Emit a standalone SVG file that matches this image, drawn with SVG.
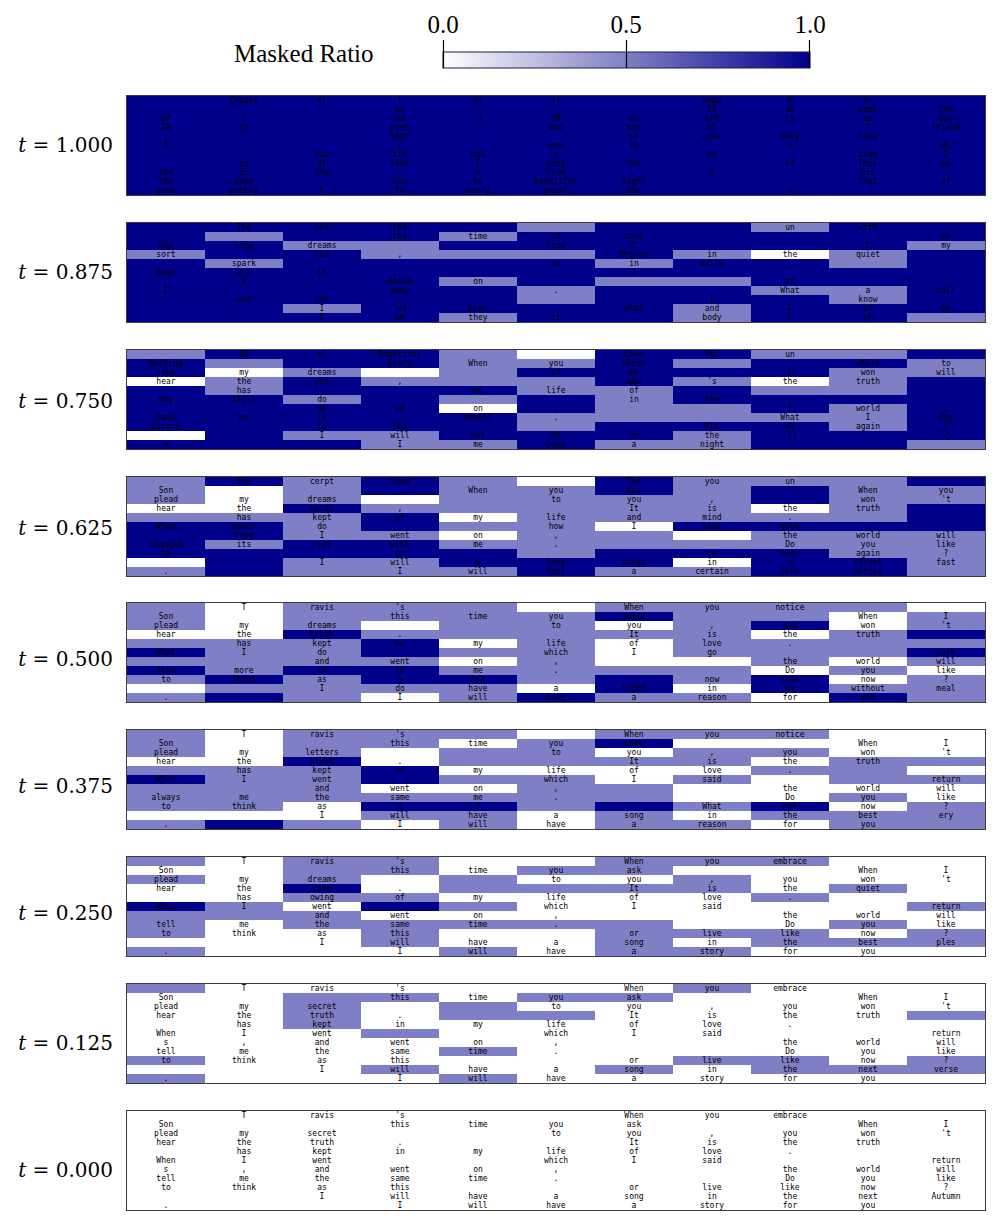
<svg xmlns="http://www.w3.org/2000/svg" width="997" height="1224" viewBox="0 0 997 1224">
<defs>
<linearGradient id="cb" x1="0" y1="0" x2="1" y2="0">
<stop offset="0" stop-color="#ffffff"/>
<stop offset="1" stop-color="#00008b"/>
</linearGradient>
<style>
.d{fill:#00008b}
.m{fill:#7f7fc5}
.w{fill:#ffffff}
.tk{font-family:"DejaVu Sans Mono",monospace;font-size:8px;fill:#000;text-anchor:middle}
.lbl{font-family:"DejaVu Serif",serif;font-size:20px;fill:#000;text-anchor:end}
.frame{fill:none;stroke:#3c3c3c;stroke-width:1}
.hdr{font-family:"Liberation Serif",serif;font-size:25px;fill:#000}
.tick{stroke:#000;stroke-width:1.2}
</style>
</defs>
<rect x="0" y="0" width="997" height="1224" fill="#ffffff"/>

<g id="colorbar">
<text class="hdr" x="234" y="62">Masked Ratio</text>
<rect x="443" y="52" width="367" height="16" fill="url(#cb)" stroke="#1c1c4c" stroke-width="1"/>
<line class="tick" x1="443.5" y1="40" x2="443.5" y2="68"/>
<line class="tick" x1="626.5" y1="40" x2="626.5" y2="68"/>
<line class="tick" x1="809.5" y1="40" x2="809.5" y2="68"/>
<text class="hdr" x="443" y="33" text-anchor="middle">0.0</text>
<text class="hdr" x="626" y="33" text-anchor="middle">0.5</text>
<text class="hdr" x="810" y="33" text-anchor="middle">1.0</text>
</g>

<g id="panel-t1000" transform="translate(0,96)">
<rect class="d" x="127" y="0" width="858" height="99"/>
<text class="tk" y="7"><tspan x="244">Images</tspan><tspan x="322">el</tspan><tspan x="400">l</tspan><tspan x="478">by</tspan><tspan x="556">ir</tspan><tspan x="712">anga</tspan><tspan x="790">H</tspan><tspan x="868">is</tspan></text>
<text class="tk" y="16"><tspan x="166">'</tspan><tspan x="400">be</tspan><tspan x="712">19</tspan><tspan x="790">ah</tspan><tspan x="868">poet</tspan><tspan x="946">the</tspan></text>
<text class="tk" y="25"><tspan x="166">of</tspan><tspan x="244">!</tspan><tspan x="400">ad</tspan><tspan x="478">'s</tspan><tspan x="556">fM</tspan><tspan x="634">as</tspan><tspan x="712">ard</tspan><tspan x="790">to</tspan><tspan x="868">as</tspan><tspan x="946">day</tspan></text>
<text class="tk" y="34"><tspan x="166">18</tspan><tspan x="244">to</tspan><tspan x="400">poem</tspan><tspan x="556">who</tspan><tspan x="634">has</tspan><tspan x="712">el</tspan><tspan x="868">(</tspan><tspan x="946">friend</tspan></text>
<text class="tk" y="43"><tspan x="166">,</tspan><tspan x="244">:</tspan><tspan x="400">that</tspan><tspan x="634">of</tspan><tspan x="712">come</tspan><tspan x="790">only</tspan><tspan x="868">love</tspan></text>
<text class="tk" y="52"><tspan x="166">5</tspan><tspan x="400">/</tspan><tspan x="556">you</tspan><tspan x="634">in</tspan><tspan x="790">n</tspan><tspan x="868">-</tspan><tspan x="946">He</tspan></text>
<text class="tk" y="61"><tspan x="244">.</tspan><tspan x="322">two</tspan><tspan x="400">him</tspan><tspan x="478">how</tspan><tspan x="556">a</tspan><tspan x="712">ak</tspan><tspan x="868">than</tspan><tspan x="946">I</tspan></text>
<text class="tk" y="70"><tspan x="244">is</tspan><tspan x="322">of</tspan><tspan x="400">that</tspan><tspan x="478">I</tspan><tspan x="556">song</tspan><tspan x="634">the</tspan><tspan x="790">of</tspan><tspan x="868">This</tspan><tspan x="946">my</tspan></text>
<text class="tk" y="79"><tspan x="166">the</tspan><tspan x="244">In</tspan><tspan x="322">the</tspan><tspan x="400">'</tspan><tspan x="478">a</tspan><tspan x="556">from</tspan><tspan x="634">,</tspan><tspan x="712">A</tspan><tspan x="868">his</tspan></text>
<text class="tk" y="88"><tspan x="166">the</tspan><tspan x="244">poem</tspan><tspan x="400">how</tspan><tspan x="478">to</tspan><tspan x="556">beautiful</tspan><tspan x="634">night</tspan><tspan x="868">that</tspan><tspan x="946">of</tspan></text>
<text class="tk" y="97"><tspan x="166">poem</tspan><tspan x="244">poetry</tspan><tspan x="322">t</tspan><tspan x="400">to</tspan><tspan x="478">every</tspan><tspan x="556">great</tspan><tspan x="634">the</tspan><tspan x="790">s</tspan><tspan x="868">.</tspan></text>
<rect class="frame" x="126.5" y="-0.5" width="859" height="100"/>
<text class="lbl" x="113" y="56"><tspan font-style="italic">t</tspan> = 1.000</text>
</g>

<g id="panel-t0875" transform="translate(0,223)">
<rect class="d" x="127" y="0" width="858" height="99"/>
<rect class="m" x="517" y="0" width="78" height="9"/><rect class="m" x="751" y="0" width="78" height="9"/>
<rect class="m" x="205" y="9" width="78" height="9"/><rect class="m" x="439" y="9" width="78" height="9"/>
<rect class="m" x="283" y="18" width="156" height="9"/><rect class="m" x="907" y="18" width="78" height="9"/>
<rect class="m" x="127" y="27" width="78" height="9"/><rect class="m" x="361" y="27" width="234" height="9"/><rect class="m" x="673" y="27" width="78" height="9"/><rect class="w" x="751" y="27" width="78" height="9"/><rect class="m" x="829" y="27" width="78" height="9"/>
<rect class="m" x="205" y="36" width="78" height="9"/><rect class="m" x="595" y="36" width="78" height="9"/><rect class="m" x="829" y="36" width="78" height="9"/>
<rect class="m" x="439" y="54" width="78" height="9"/><rect class="m" x="595" y="54" width="156" height="9"/>
<rect class="m" x="517" y="63" width="78" height="9"/><rect class="m" x="751" y="63" width="156" height="9"/>
<rect class="m" x="517" y="72" width="78" height="9"/><rect class="m" x="829" y="72" width="78" height="9"/>
<rect class="m" x="283" y="81" width="78" height="9"/><rect class="m" x="673" y="81" width="78" height="9"/>
<rect class="m" x="439" y="90" width="78" height="9"/><rect class="m" x="673" y="90" width="78" height="9"/><rect class="m" x="907" y="90" width="78" height="9"/>
<text class="tk" y="7"><tspan x="244">The</tspan><tspan x="322">ose</tspan><tspan x="400">the</tspan><tspan x="790">un</tspan><tspan x="868">with</tspan></text>
<text class="tk" y="16"><tspan x="400">the</tspan><tspan x="478">time</tspan><tspan x="556">of</tspan><tspan x="634">cons</tspan><tspan x="946">my</tspan></text>
<text class="tk" y="25"><tspan x="166">day</tspan><tspan x="244">long</tspan><tspan x="322">dreams</tspan><tspan x="556">from</tspan><tspan x="634">I</tspan><tspan x="868">I</tspan><tspan x="946">my</tspan></text>
<text class="tk" y="34"><tspan x="166">sort</tspan><tspan x="322">him</tspan><tspan x="400">,</tspan><tspan x="634">Return</tspan><tspan x="712">in</tspan><tspan x="790">the</tspan><tspan x="868">quiet</tspan></text>
<text class="tk" y="43"><tspan x="244">spark</tspan><tspan x="556">us</tspan><tspan x="634">in</tspan><tspan x="712">walls</tspan><tspan x="790">.</tspan></text>
<text class="tk" y="52"><tspan x="166">have</tspan><tspan x="244">are</tspan><tspan x="322">in</tspan><tspan x="400">,</tspan><tspan x="634">I</tspan></text>
<text class="tk" y="61"><tspan x="166">,</tspan><tspan x="244">I</tspan><tspan x="400">based</tspan><tspan x="478">on</tspan><tspan x="556">.</tspan><tspan x="790">at</tspan><tspan x="868">,</tspan><tspan x="946">'</tspan></text>
<text class="tk" y="70"><tspan x="166">I</tspan><tspan x="244">.</tspan><tspan x="400">away</tspan><tspan x="556">.</tspan><tspan x="790">What</tspan><tspan x="868">a</tspan><tspan x="946">call</tspan></text>
<text class="tk" y="79"><tspan x="166">.</tspan><tspan x="244">and</tspan><tspan x="322">the</tspan><tspan x="400">.</tspan><tspan x="712">I</tspan><tspan x="790">,</tspan><tspan x="868">know</tspan><tspan x="946">.</tspan></text>
<text class="tk" y="88"><tspan x="322">I</tspan><tspan x="400">'ve</tspan><tspan x="478">been</tspan><tspan x="634">what</tspan><tspan x="712">and</tspan><tspan x="790">I</tspan><tspan x="868">of</tspan><tspan x="946">my</tspan></text>
<text class="tk" y="97"><tspan x="322">I</tspan><tspan x="400">am</tspan><tspan x="478">they</tspan><tspan x="556">it</tspan><tspan x="634">,</tspan><tspan x="712">body</tspan><tspan x="790">?</tspan><tspan x="868">pt</tspan></text>
<rect class="frame" x="126.5" y="-0.5" width="859" height="100"/>
<text class="lbl" x="113" y="56"><tspan font-style="italic">t</tspan> = 0.875</text>
</g>

<g id="panel-t0750" transform="translate(0,350)">
<rect class="d" x="127" y="0" width="858" height="99"/>
<rect class="m" x="127" y="0" width="78" height="9"/><rect class="m" x="439" y="0" width="78" height="9"/><rect class="w" x="517" y="0" width="78" height="9"/><rect class="m" x="751" y="0" width="156" height="9"/>
<rect class="m" x="205" y="9" width="78" height="9"/><rect class="m" x="439" y="9" width="156" height="9"/><rect class="m" x="673" y="9" width="78" height="9"/><rect class="m" x="907" y="9" width="78" height="9"/>
<rect class="w" x="205" y="18" width="78" height="9"/><rect class="m" x="283" y="18" width="78" height="9"/><rect class="w" x="361" y="18" width="78" height="9"/><rect class="m" x="439" y="18" width="78" height="9"/><rect class="m" x="829" y="18" width="156" height="9"/>
<rect class="w" x="127" y="27" width="78" height="9"/><rect class="m" x="205" y="27" width="78" height="9"/><rect class="m" x="361" y="27" width="234" height="9"/><rect class="m" x="673" y="27" width="78" height="9"/><rect class="w" x="751" y="27" width="78" height="9"/><rect class="m" x="829" y="27" width="78" height="9"/>
<rect class="m" x="205" y="36" width="78" height="9"/><rect class="m" x="517" y="36" width="156" height="9"/><rect class="m" x="751" y="36" width="156" height="9"/>
<rect class="m" x="283" y="45" width="78" height="9"/><rect class="m" x="439" y="45" width="78" height="9"/><rect class="m" x="595" y="45" width="78" height="9"/>
<rect class="w" x="439" y="54" width="78" height="9"/><rect class="m" x="595" y="54" width="156" height="9"/><rect class="m" x="829" y="54" width="78" height="9"/>
<rect class="m" x="517" y="63" width="390" height="9"/>
<rect class="m" x="517" y="72" width="78" height="9"/><rect class="m" x="829" y="72" width="78" height="9"/>
<rect class="w" x="127" y="81" width="78" height="9"/><rect class="m" x="283" y="81" width="156" height="9"/><rect class="m" x="673" y="81" width="78" height="9"/>
<rect class="m" x="361" y="90" width="156" height="9"/><rect class="m" x="595" y="90" width="156" height="9"/><rect class="m" x="907" y="90" width="78" height="9"/>
<text class="tk" y="7"><tspan x="244">Sk</tspan><tspan x="322">ol</tspan><tspan x="400">Beautiful</tspan><tspan x="634">Love</tspan><tspan x="712">You</tspan><tspan x="790">un</tspan></text>
<text class="tk" y="16"><tspan x="166">Nothing</tspan><tspan x="400">Every</tspan><tspan x="478">When</tspan><tspan x="556">you</tspan><tspan x="634">think</tspan><tspan x="868">while</tspan><tspan x="946">to</tspan></text>
<text class="tk" y="25"><tspan x="166">sing</tspan><tspan x="244">my</tspan><tspan x="322">dreams</tspan><tspan x="556">of</tspan><tspan x="634">me</tspan><tspan x="790">I</tspan><tspan x="868">won</tspan><tspan x="946">will</tspan></text>
<text class="tk" y="34"><tspan x="166">hear</tspan><tspan x="244">the</tspan><tspan x="322">you</tspan><tspan x="400">,</tspan><tspan x="634">Now</tspan><tspan x="712">'s</tspan><tspan x="790">the</tspan><tspan x="868">truth</tspan></text>
<text class="tk" y="43"><tspan x="244">has</tspan><tspan x="478">me</tspan><tspan x="556">life</tspan><tspan x="634">of</tspan><tspan x="712">.</tspan></text>
<text class="tk" y="52"><tspan x="166">may</tspan><tspan x="244">still</tspan><tspan x="322">do</tspan><tspan x="634">in</tspan><tspan x="712">the</tspan></text>
<text class="tk" y="61"><tspan x="322">no</tspan><tspan x="400">ed</tspan><tspan x="478">on</tspan><tspan x="556">,</tspan><tspan x="790">I</tspan><tspan x="868">world</tspan><tspan x="946">,</tspan></text>
<text class="tk" y="70"><tspan x="166">have</tspan><tspan x="244">my</tspan><tspan x="322">is</tspan><tspan x="478">myself</tspan><tspan x="556">.</tspan><tspan x="790">What</tspan><tspan x="868">I</tspan><tspan x="946">day</tspan></text>
<text class="tk" y="79"><tspan x="166">before</tspan><tspan x="322">to</tspan><tspan x="400">see</tspan><tspan x="712">his</tspan><tspan x="790">we</tspan><tspan x="868">again</tspan><tspan x="946">?</tspan></text>
<text class="tk" y="88"><tspan x="322">I</tspan><tspan x="400">will</tspan><tspan x="478">not</tspan><tspan x="556">so</tspan><tspan x="634">'or</tspan><tspan x="712">the</tspan><tspan x="790">'ll</tspan><tspan x="946">'s</tspan></text>
<text class="tk" y="97"><tspan x="166">a</tspan><tspan x="400">I</tspan><tspan x="478">me</tspan><tspan x="556">keep</tspan><tspan x="634">a</tspan><tspan x="712">night</tspan><tspan x="790">.</tspan></text>
<rect class="frame" x="126.5" y="-0.5" width="859" height="100"/>
<text class="lbl" x="113" y="58"><tspan font-style="italic">t</tspan> = 0.750</text>
</g>

<g id="panel-t0625" transform="translate(0,477)">
<rect class="m" x="127" y="0" width="858" height="99"/>
<rect class="d" x="205" y="0" width="78" height="9"/><rect class="d" x="361" y="0" width="78" height="9"/><rect class="w" x="517" y="0" width="78" height="9"/><rect class="d" x="595" y="0" width="78" height="9"/><rect class="d" x="907" y="0" width="78" height="9"/>
<rect class="w" x="205" y="9" width="78" height="9"/><rect class="d" x="361" y="9" width="78" height="9"/><rect class="d" x="595" y="9" width="78" height="9"/><rect class="d" x="751" y="9" width="78" height="9"/>
<rect class="w" x="205" y="18" width="78" height="9"/><rect class="w" x="361" y="18" width="78" height="9"/><rect class="d" x="751" y="18" width="78" height="9"/>
<rect class="w" x="127" y="27" width="156" height="9"/><rect class="d" x="283" y="27" width="78" height="9"/><rect class="w" x="751" y="27" width="78" height="9"/><rect class="d" x="907" y="27" width="78" height="9"/>
<rect class="d" x="361" y="36" width="78" height="9"/><rect class="w" x="439" y="36" width="78" height="9"/><rect class="d" x="907" y="36" width="78" height="9"/>
<rect class="d" x="127" y="45" width="156" height="9"/><rect class="d" x="361" y="45" width="78" height="9"/><rect class="w" x="595" y="45" width="78" height="9"/><rect class="d" x="673" y="45" width="312" height="9"/>
<rect class="d" x="127" y="54" width="156" height="9"/><rect class="w" x="439" y="54" width="78" height="9"/><rect class="w" x="673" y="54" width="78" height="9"/>
<rect class="d" x="127" y="63" width="78" height="9"/><rect class="d" x="283" y="63" width="156" height="9"/>
<rect class="d" x="127" y="72" width="390" height="9"/><rect class="d" x="595" y="72" width="234" height="9"/>
<rect class="w" x="127" y="81" width="78" height="9"/><rect class="d" x="205" y="81" width="78" height="9"/><rect class="d" x="439" y="81" width="234" height="9"/><rect class="w" x="673" y="81" width="78" height="9"/><rect class="d" x="751" y="81" width="156" height="9"/>
<rect class="d" x="205" y="90" width="78" height="9"/><rect class="d" x="517" y="90" width="78" height="9"/><rect class="d" x="751" y="90" width="156" height="9"/>
<text class="tk" y="7"><tspan x="244">The</tspan><tspan x="322">cerpt</tspan><tspan x="400">them</tspan><tspan x="634">The</tspan><tspan x="712">you</tspan><tspan x="790">un</tspan></text>
<text class="tk" y="16"><tspan x="166">Son</tspan><tspan x="478">When</tspan><tspan x="556">you</tspan><tspan x="634">die</tspan><tspan x="868">When</tspan><tspan x="946">you</tspan></text>
<text class="tk" y="25"><tspan x="166">plead</tspan><tspan x="244">my</tspan><tspan x="322">dreams</tspan><tspan x="556">to</tspan><tspan x="634">you</tspan><tspan x="712">,</tspan><tspan x="868">won</tspan><tspan x="946">'t</tspan></text>
<text class="tk" y="34"><tspan x="166">hear</tspan><tspan x="244">the</tspan><tspan x="322">words</tspan><tspan x="400">,</tspan><tspan x="634">It</tspan><tspan x="712">is</tspan><tspan x="790">the</tspan><tspan x="868">truth</tspan></text>
<text class="tk" y="43"><tspan x="244">has</tspan><tspan x="322">kept</tspan><tspan x="400">of</tspan><tspan x="478">my</tspan><tspan x="556">life</tspan><tspan x="634">and</tspan><tspan x="712">mind</tspan><tspan x="790">.</tspan></text>
<text class="tk" y="52"><tspan x="166">When</tspan><tspan x="244">never</tspan><tspan x="322">do</tspan><tspan x="556">how</tspan><tspan x="634">I</tspan><tspan x="712">love</tspan><tspan x="790">gone</tspan><tspan x="868">,</tspan></text>
<text class="tk" y="61"><tspan x="244">from</tspan><tspan x="322">I</tspan><tspan x="400">went</tspan><tspan x="478">on</tspan><tspan x="556">,</tspan><tspan x="790">the</tspan><tspan x="868">world</tspan><tspan x="946">will</tspan></text>
<text class="tk" y="70"><tspan x="166">changed</tspan><tspan x="244">its</tspan><tspan x="322">rest</tspan><tspan x="400">with</tspan><tspan x="478">me</tspan><tspan x="556">.</tspan><tspan x="790">Do</tspan><tspan x="868">you</tspan><tspan x="946">like</tspan></text>
<text class="tk" y="79"><tspan x="166">to</tspan><tspan x="400">or</tspan><tspan x="712">is</tspan><tspan x="790">ever</tspan><tspan x="868">again</tspan><tspan x="946">?</tspan></text>
<text class="tk" y="88"><tspan x="322">I</tspan><tspan x="400">will</tspan><tspan x="478">a</tspan><tspan x="556">love</tspan><tspan x="634">songs</tspan><tspan x="712">in</tspan><tspan x="790">a</tspan><tspan x="868">silent</tspan><tspan x="946">fast</tspan></text>
<text class="tk" y="97"><tspan x="166">.</tspan><tspan x="400">I</tspan><tspan x="478">will</tspan><tspan x="556">feel</tspan><tspan x="634">a</tspan><tspan x="712">certain</tspan><tspan x="790">here</tspan><tspan x="868">notice</tspan></text>
<rect class="frame" x="126.5" y="-0.5" width="859" height="100"/>
<text class="lbl" x="113" y="58"><tspan font-style="italic">t</tspan> = 0.625</text>
</g>

<g id="panel-t0500" transform="translate(0,603)">
<rect class="m" x="127" y="0" width="858" height="99"/>
<rect class="w" x="205" y="0" width="78" height="9"/><rect class="w" x="517" y="0" width="78" height="9"/><rect class="w" x="907" y="0" width="78" height="9"/>
<rect class="w" x="205" y="9" width="78" height="9"/><rect class="d" x="595" y="9" width="78" height="9"/><rect class="w" x="829" y="9" width="78" height="9"/>
<rect class="w" x="205" y="18" width="78" height="9"/><rect class="w" x="361" y="18" width="78" height="9"/><rect class="w" x="595" y="18" width="78" height="9"/><rect class="d" x="751" y="18" width="78" height="9"/><rect class="w" x="829" y="18" width="78" height="9"/>
<rect class="w" x="127" y="27" width="156" height="9"/><rect class="d" x="283" y="27" width="78" height="9"/><rect class="w" x="751" y="27" width="78" height="9"/><rect class="d" x="907" y="27" width="78" height="9"/>
<rect class="d" x="361" y="36" width="78" height="9"/><rect class="w" x="439" y="36" width="78" height="9"/><rect class="w" x="595" y="36" width="78" height="9"/>
<rect class="d" x="127" y="45" width="78" height="9"/><rect class="d" x="361" y="45" width="78" height="9"/><rect class="w" x="595" y="45" width="78" height="9"/><rect class="d" x="907" y="45" width="78" height="9"/>
<rect class="w" x="439" y="54" width="78" height="9"/><rect class="w" x="595" y="54" width="156" height="9"/><rect class="w" x="829" y="54" width="78" height="9"/>
<rect class="d" x="127" y="63" width="78" height="9"/><rect class="d" x="283" y="63" width="156" height="9"/><rect class="w" x="751" y="63" width="78" height="9"/><rect class="w" x="907" y="63" width="78" height="9"/>
<rect class="d" x="205" y="72" width="78" height="9"/><rect class="d" x="361" y="72" width="156" height="9"/><rect class="d" x="595" y="72" width="78" height="9"/><rect class="d" x="751" y="72" width="78" height="9"/><rect class="w" x="829" y="72" width="78" height="9"/>
<rect class="w" x="127" y="81" width="78" height="9"/><rect class="w" x="517" y="81" width="78" height="9"/><rect class="d" x="595" y="81" width="78" height="9"/><rect class="w" x="673" y="81" width="78" height="9"/><rect class="d" x="751" y="81" width="78" height="9"/>
<rect class="d" x="205" y="90" width="78" height="9"/><rect class="w" x="361" y="90" width="78" height="9"/><rect class="d" x="517" y="90" width="78" height="9"/><rect class="w" x="751" y="90" width="78" height="9"/><rect class="d" x="829" y="90" width="78" height="9"/>
<text class="tk" y="7"><tspan x="244">T</tspan><tspan x="322">ravis</tspan><tspan x="400">'s</tspan><tspan x="634">When</tspan><tspan x="712">you</tspan><tspan x="790">notice</tspan></text>
<text class="tk" y="16"><tspan x="166">Son</tspan><tspan x="400">this</tspan><tspan x="478">time</tspan><tspan x="556">you</tspan><tspan x="634">smile</tspan><tspan x="868">When</tspan><tspan x="946">I</tspan></text>
<text class="tk" y="25"><tspan x="166">plead</tspan><tspan x="244">my</tspan><tspan x="322">dreams</tspan><tspan x="556">to</tspan><tspan x="634">you</tspan><tspan x="712">,</tspan><tspan x="790">you</tspan><tspan x="868">won</tspan><tspan x="946">'t</tspan></text>
<text class="tk" y="34"><tspan x="166">hear</tspan><tspan x="244">the</tspan><tspan x="322">truth</tspan><tspan x="400">.</tspan><tspan x="634">It</tspan><tspan x="712">is</tspan><tspan x="790">the</tspan><tspan x="868">truth</tspan></text>
<text class="tk" y="43"><tspan x="244">has</tspan><tspan x="322">kept</tspan><tspan x="400">me</tspan><tspan x="478">my</tspan><tspan x="556">life</tspan><tspan x="634">of</tspan><tspan x="712">love</tspan><tspan x="790">.</tspan></text>
<text class="tk" y="52"><tspan x="166">What</tspan><tspan x="244">I</tspan><tspan x="322">do</tspan><tspan x="556">which</tspan><tspan x="634">I</tspan><tspan x="712">go</tspan><tspan x="946">work</tspan></text>
<text class="tk" y="61"><tspan x="322">and</tspan><tspan x="400">went</tspan><tspan x="478">on</tspan><tspan x="556">,</tspan><tspan x="790">the</tspan><tspan x="868">world</tspan><tspan x="946">will</tspan></text>
<text class="tk" y="70"><tspan x="166">find</tspan><tspan x="244">more</tspan><tspan x="322">in</tspan><tspan x="400">to</tspan><tspan x="478">me</tspan><tspan x="556">.</tspan><tspan x="790">Do</tspan><tspan x="868">you</tspan><tspan x="946">like</tspan></text>
<text class="tk" y="79"><tspan x="166">to</tspan><tspan x="244">think</tspan><tspan x="322">as</tspan><tspan x="400">a</tspan><tspan x="478">ask</tspan><tspan x="712">now</tspan><tspan x="790">than</tspan><tspan x="868">now</tspan><tspan x="946">?</tspan></text>
<text class="tk" y="88"><tspan x="322">I</tspan><tspan x="400">do</tspan><tspan x="478">have</tspan><tspan x="556">a</tspan><tspan x="634">light</tspan><tspan x="712">in</tspan><tspan x="790">my</tspan><tspan x="868">without</tspan><tspan x="946">meal</tspan></text>
<text class="tk" y="97"><tspan x="166">.</tspan><tspan x="400">I</tspan><tspan x="478">will</tspan><tspan x="556">have</tspan><tspan x="634">a</tspan><tspan x="712">reason</tspan><tspan x="790">for</tspan><tspan x="868">you</tspan></text>
<rect class="frame" x="126.5" y="-0.5" width="859" height="100"/>
<text class="lbl" x="113" y="63"><tspan font-style="italic">t</tspan> = 0.500</text>
</g>

<g id="panel-t0375" transform="translate(0,730)">
<rect class="m" x="127" y="0" width="858" height="99"/>
<rect class="w" x="205" y="0" width="78" height="9"/><rect class="w" x="517" y="0" width="78" height="9"/><rect class="w" x="829" y="0" width="156" height="9"/>
<rect class="w" x="205" y="9" width="78" height="9"/><rect class="w" x="439" y="9" width="78" height="9"/><rect class="d" x="595" y="9" width="78" height="9"/><rect class="w" x="673" y="9" width="312" height="9"/>
<rect class="w" x="205" y="18" width="78" height="9"/><rect class="w" x="361" y="18" width="78" height="9"/><rect class="w" x="595" y="18" width="78" height="9"/><rect class="w" x="829" y="18" width="156" height="9"/>
<rect class="w" x="127" y="27" width="156" height="9"/><rect class="d" x="283" y="27" width="78" height="9"/><rect class="w" x="361" y="27" width="78" height="9"/><rect class="w" x="751" y="27" width="78" height="9"/>
<rect class="d" x="361" y="36" width="78" height="9"/><rect class="w" x="439" y="36" width="312" height="9"/><rect class="w" x="907" y="36" width="78" height="9"/>
<rect class="d" x="127" y="45" width="78" height="9"/><rect class="d" x="361" y="45" width="78" height="9"/><rect class="w" x="595" y="45" width="78" height="9"/><rect class="w" x="751" y="45" width="78" height="9"/>
<rect class="w" x="361" y="54" width="156" height="9"/><rect class="w" x="673" y="54" width="312" height="9"/>
<rect class="w" x="673" y="63" width="156" height="9"/><rect class="w" x="907" y="63" width="78" height="9"/>
<rect class="w" x="283" y="72" width="78" height="9"/><rect class="d" x="361" y="72" width="156" height="9"/><rect class="d" x="595" y="72" width="78" height="9"/><rect class="d" x="751" y="72" width="78" height="9"/><rect class="w" x="829" y="72" width="78" height="9"/>
<rect class="w" x="127" y="81" width="234" height="9"/><rect class="w" x="517" y="81" width="78" height="9"/><rect class="w" x="673" y="81" width="78" height="9"/>
<rect class="d" x="205" y="90" width="78" height="9"/><rect class="w" x="361" y="90" width="78" height="9"/><rect class="w" x="517" y="90" width="78" height="9"/><rect class="w" x="751" y="90" width="78" height="9"/>
<text class="tk" y="7"><tspan x="244">T</tspan><tspan x="322">ravis</tspan><tspan x="400">'s</tspan><tspan x="634">When</tspan><tspan x="712">you</tspan><tspan x="790">notice</tspan></text>
<text class="tk" y="16"><tspan x="166">Son</tspan><tspan x="400">this</tspan><tspan x="478">time</tspan><tspan x="556">you</tspan><tspan x="634">come</tspan><tspan x="868">When</tspan><tspan x="946">I</tspan></text>
<text class="tk" y="25"><tspan x="166">plead</tspan><tspan x="244">my</tspan><tspan x="322">letters</tspan><tspan x="556">to</tspan><tspan x="634">you</tspan><tspan x="712">,</tspan><tspan x="790">you</tspan><tspan x="868">won</tspan><tspan x="946">'t</tspan></text>
<text class="tk" y="34"><tspan x="166">hear</tspan><tspan x="244">the</tspan><tspan x="322">truth</tspan><tspan x="400">.</tspan><tspan x="634">It</tspan><tspan x="712">is</tspan><tspan x="790">the</tspan><tspan x="868">truth</tspan></text>
<text class="tk" y="43"><tspan x="244">has</tspan><tspan x="322">kept</tspan><tspan x="400">of</tspan><tspan x="478">my</tspan><tspan x="556">life</tspan><tspan x="634">of</tspan><tspan x="712">love</tspan><tspan x="790">.</tspan></text>
<text class="tk" y="52"><tspan x="166">When</tspan><tspan x="244">I</tspan><tspan x="322">went</tspan><tspan x="556">which</tspan><tspan x="634">I</tspan><tspan x="712">said</tspan><tspan x="946">return</tspan></text>
<text class="tk" y="61"><tspan x="322">and</tspan><tspan x="400">went</tspan><tspan x="478">on</tspan><tspan x="556">,</tspan><tspan x="790">the</tspan><tspan x="868">world</tspan><tspan x="946">will</tspan></text>
<text class="tk" y="70"><tspan x="166">always</tspan><tspan x="244">me</tspan><tspan x="322">the</tspan><tspan x="400">same</tspan><tspan x="478">me</tspan><tspan x="556">.</tspan><tspan x="790">Do</tspan><tspan x="868">you</tspan><tspan x="946">like</tspan></text>
<text class="tk" y="79"><tspan x="166">to</tspan><tspan x="244">think</tspan><tspan x="322">as</tspan><tspan x="400">a</tspan><tspan x="478">?</tspan><tspan x="712">What</tspan><tspan x="790">not</tspan><tspan x="868">now</tspan><tspan x="946">?</tspan></text>
<text class="tk" y="88"><tspan x="322">I</tspan><tspan x="400">will</tspan><tspan x="478">have</tspan><tspan x="556">a</tspan><tspan x="634">song</tspan><tspan x="712">in</tspan><tspan x="790">the</tspan><tspan x="868">best</tspan><tspan x="946">ery</tspan></text>
<text class="tk" y="97"><tspan x="166">.</tspan><tspan x="400">I</tspan><tspan x="478">will</tspan><tspan x="556">have</tspan><tspan x="634">a</tspan><tspan x="712">reason</tspan><tspan x="790">for</tspan><tspan x="868">you</tspan></text>
<rect class="frame" x="126.5" y="-0.5" width="859" height="100"/>
<text class="lbl" x="113" y="63"><tspan font-style="italic">t</tspan> = 0.375</text>
</g>

<g id="panel-t0250" transform="translate(0,857)">
<rect class="w" x="127" y="0" width="858" height="99"/>
<rect class="m" x="127" y="0" width="78" height="9"/><rect class="m" x="283" y="0" width="156" height="9"/><rect class="m" x="595" y="0" width="234" height="9"/>
<rect class="m" x="283" y="9" width="156" height="9"/><rect class="m" x="517" y="9" width="156" height="9"/>
<rect class="m" x="127" y="18" width="78" height="9"/><rect class="m" x="283" y="18" width="78" height="9"/><rect class="m" x="439" y="18" width="78" height="9"/><rect class="m" x="673" y="18" width="78" height="9"/>
<rect class="d" x="283" y="27" width="78" height="9"/><rect class="m" x="439" y="27" width="312" height="9"/><rect class="m" x="829" y="27" width="78" height="9"/>
<rect class="m" x="283" y="36" width="156" height="9"/><rect class="m" x="751" y="36" width="78" height="9"/>
<rect class="d" x="127" y="45" width="78" height="9"/><rect class="m" x="205" y="45" width="78" height="9"/><rect class="d" x="361" y="45" width="78" height="9"/><rect class="m" x="439" y="45" width="78" height="9"/><rect class="m" x="907" y="45" width="78" height="9"/>
<rect class="m" x="127" y="54" width="234" height="9"/>
<rect class="m" x="127" y="63" width="78" height="9"/><rect class="m" x="283" y="63" width="390" height="9"/><rect class="m" x="829" y="63" width="78" height="9"/>
<rect class="m" x="127" y="72" width="78" height="9"/><rect class="m" x="361" y="72" width="78" height="9"/><rect class="m" x="595" y="72" width="234" height="9"/><rect class="m" x="907" y="72" width="78" height="9"/>
<rect class="m" x="361" y="81" width="78" height="9"/><rect class="m" x="595" y="81" width="78" height="9"/><rect class="m" x="751" y="81" width="234" height="9"/>
<rect class="m" x="127" y="90" width="78" height="9"/><rect class="m" x="439" y="90" width="78" height="9"/><rect class="m" x="595" y="90" width="156" height="9"/>
<text class="tk" y="7"><tspan x="244">T</tspan><tspan x="322">ravis</tspan><tspan x="400">'s</tspan><tspan x="634">When</tspan><tspan x="712">you</tspan><tspan x="790">embrace</tspan></text>
<text class="tk" y="16"><tspan x="166">Son</tspan><tspan x="400">this</tspan><tspan x="478">time</tspan><tspan x="556">you</tspan><tspan x="634">ask</tspan><tspan x="868">When</tspan><tspan x="946">I</tspan></text>
<text class="tk" y="25"><tspan x="166">plead</tspan><tspan x="244">my</tspan><tspan x="322">dreams</tspan><tspan x="556">to</tspan><tspan x="634">you</tspan><tspan x="712">,</tspan><tspan x="790">you</tspan><tspan x="868">won</tspan><tspan x="946">'t</tspan></text>
<text class="tk" y="34"><tspan x="166">hear</tspan><tspan x="244">the</tspan><tspan x="322">song</tspan><tspan x="400">.</tspan><tspan x="634">It</tspan><tspan x="712">is</tspan><tspan x="790">the</tspan><tspan x="868">quiet</tspan></text>
<text class="tk" y="43"><tspan x="244">has</tspan><tspan x="322">owing</tspan><tspan x="400">of</tspan><tspan x="478">my</tspan><tspan x="556">life</tspan><tspan x="634">of</tspan><tspan x="712">love</tspan><tspan x="790">.</tspan></text>
<text class="tk" y="52"><tspan x="166">When</tspan><tspan x="244">I</tspan><tspan x="322">went</tspan><tspan x="556">which</tspan><tspan x="634">I</tspan><tspan x="712">said</tspan><tspan x="946">return</tspan></text>
<text class="tk" y="61"><tspan x="322">and</tspan><tspan x="400">went</tspan><tspan x="478">on</tspan><tspan x="556">,</tspan><tspan x="790">the</tspan><tspan x="868">world</tspan><tspan x="946">will</tspan></text>
<text class="tk" y="70"><tspan x="166">tell</tspan><tspan x="244">me</tspan><tspan x="322">the</tspan><tspan x="400">same</tspan><tspan x="478">time</tspan><tspan x="556">.</tspan><tspan x="790">Do</tspan><tspan x="868">you</tspan><tspan x="946">like</tspan></text>
<text class="tk" y="79"><tspan x="166">to</tspan><tspan x="244">think</tspan><tspan x="322">as</tspan><tspan x="400">this</tspan><tspan x="634">or</tspan><tspan x="712">live</tspan><tspan x="790">like</tspan><tspan x="868">now</tspan><tspan x="946">?</tspan></text>
<text class="tk" y="88"><tspan x="322">I</tspan><tspan x="400">will</tspan><tspan x="478">have</tspan><tspan x="556">a</tspan><tspan x="634">song</tspan><tspan x="712">in</tspan><tspan x="790">the</tspan><tspan x="868">best</tspan><tspan x="946">ples</tspan></text>
<text class="tk" y="97"><tspan x="166">.</tspan><tspan x="400">I</tspan><tspan x="478">will</tspan><tspan x="556">have</tspan><tspan x="634">a</tspan><tspan x="712">story</tspan><tspan x="790">for</tspan><tspan x="868">you</tspan></text>
<rect class="frame" x="126.5" y="-0.5" width="859" height="100"/>
<text class="lbl" x="113" y="63"><tspan font-style="italic">t</tspan> = 0.250</text>
</g>

<g id="panel-t0125" transform="translate(0,984)">
<rect class="w" x="127" y="0" width="858" height="99"/>
<rect class="m" x="127" y="0" width="78" height="9"/><rect class="m" x="673" y="0" width="78" height="9"/>
<rect class="m" x="283" y="9" width="156" height="9"/><rect class="m" x="517" y="9" width="156" height="9"/>
<rect class="m" x="283" y="18" width="78" height="9"/><rect class="m" x="439" y="18" width="78" height="9"/>
<rect class="m" x="283" y="27" width="78" height="9"/><rect class="m" x="439" y="27" width="156" height="9"/><rect class="m" x="907" y="27" width="78" height="9"/>
<rect class="m" x="283" y="36" width="78" height="9"/>
<rect class="m" x="361" y="45" width="78" height="9"/>
<rect class="m" x="439" y="63" width="78" height="9"/>
<rect class="m" x="127" y="72" width="78" height="9"/><rect class="m" x="673" y="72" width="156" height="9"/><rect class="m" x="907" y="72" width="78" height="9"/>
<rect class="m" x="361" y="81" width="78" height="9"/><rect class="m" x="595" y="81" width="78" height="9"/><rect class="m" x="751" y="81" width="234" height="9"/>
<rect class="m" x="127" y="90" width="78" height="9"/><rect class="m" x="439" y="90" width="78" height="9"/>
<text class="tk" y="7"><tspan x="244">T</tspan><tspan x="322">ravis</tspan><tspan x="400">'s</tspan><tspan x="634">When</tspan><tspan x="712">you</tspan><tspan x="790">embrace</tspan></text>
<text class="tk" y="16"><tspan x="166">Son</tspan><tspan x="400">this</tspan><tspan x="478">time</tspan><tspan x="556">you</tspan><tspan x="634">ask</tspan><tspan x="868">When</tspan><tspan x="946">I</tspan></text>
<text class="tk" y="25"><tspan x="166">plead</tspan><tspan x="244">my</tspan><tspan x="322">secret</tspan><tspan x="556">to</tspan><tspan x="634">you</tspan><tspan x="712">,</tspan><tspan x="790">you</tspan><tspan x="868">won</tspan><tspan x="946">'t</tspan></text>
<text class="tk" y="34"><tspan x="166">hear</tspan><tspan x="244">the</tspan><tspan x="322">truth</tspan><tspan x="400">.</tspan><tspan x="634">It</tspan><tspan x="712">is</tspan><tspan x="790">the</tspan><tspan x="868">truth</tspan></text>
<text class="tk" y="43"><tspan x="244">has</tspan><tspan x="322">kept</tspan><tspan x="400">in</tspan><tspan x="478">my</tspan><tspan x="556">life</tspan><tspan x="634">of</tspan><tspan x="712">love</tspan><tspan x="790">.</tspan></text>
<text class="tk" y="52"><tspan x="166">When</tspan><tspan x="244">I</tspan><tspan x="322">went</tspan><tspan x="556">which</tspan><tspan x="634">I</tspan><tspan x="712">said</tspan><tspan x="946">return</tspan></text>
<text class="tk" y="61"><tspan x="166">s</tspan><tspan x="244">,</tspan><tspan x="322">and</tspan><tspan x="400">went</tspan><tspan x="478">on</tspan><tspan x="556">,</tspan><tspan x="790">the</tspan><tspan x="868">world</tspan><tspan x="946">will</tspan></text>
<text class="tk" y="70"><tspan x="166">tell</tspan><tspan x="244">me</tspan><tspan x="322">the</tspan><tspan x="400">same</tspan><tspan x="478">time</tspan><tspan x="556">.</tspan><tspan x="790">Do</tspan><tspan x="868">you</tspan><tspan x="946">like</tspan></text>
<text class="tk" y="79"><tspan x="166">to</tspan><tspan x="244">think</tspan><tspan x="322">as</tspan><tspan x="400">this</tspan><tspan x="634">or</tspan><tspan x="712">live</tspan><tspan x="790">like</tspan><tspan x="868">now</tspan><tspan x="946">?</tspan></text>
<text class="tk" y="88"><tspan x="322">I</tspan><tspan x="400">will</tspan><tspan x="478">have</tspan><tspan x="556">a</tspan><tspan x="634">song</tspan><tspan x="712">in</tspan><tspan x="790">the</tspan><tspan x="868">next</tspan><tspan x="946">verse</tspan></text>
<text class="tk" y="97"><tspan x="166">.</tspan><tspan x="400">I</tspan><tspan x="478">will</tspan><tspan x="556">have</tspan><tspan x="634">a</tspan><tspan x="712">story</tspan><tspan x="790">for</tspan><tspan x="868">you</tspan></text>
<rect class="frame" x="126.5" y="-0.5" width="859" height="100"/>
<text class="lbl" x="113" y="66"><tspan font-style="italic">t</tspan> = 0.125</text>
</g>

<g id="panel-t0000" transform="translate(0,1111)">
<rect class="w" x="127" y="0" width="858" height="99"/>
<text class="tk" y="7"><tspan x="244">T</tspan><tspan x="322">ravis</tspan><tspan x="400">'s</tspan><tspan x="634">When</tspan><tspan x="712">you</tspan><tspan x="790">embrace</tspan></text>
<text class="tk" y="16"><tspan x="166">Son</tspan><tspan x="400">this</tspan><tspan x="478">time</tspan><tspan x="556">you</tspan><tspan x="634">ask</tspan><tspan x="868">When</tspan><tspan x="946">I</tspan></text>
<text class="tk" y="25"><tspan x="166">plead</tspan><tspan x="244">my</tspan><tspan x="322">secret</tspan><tspan x="556">to</tspan><tspan x="634">you</tspan><tspan x="712">,</tspan><tspan x="790">you</tspan><tspan x="868">won</tspan><tspan x="946">'t</tspan></text>
<text class="tk" y="34"><tspan x="166">hear</tspan><tspan x="244">the</tspan><tspan x="322">truth</tspan><tspan x="400">.</tspan><tspan x="634">It</tspan><tspan x="712">is</tspan><tspan x="790">the</tspan><tspan x="868">truth</tspan></text>
<text class="tk" y="43"><tspan x="244">has</tspan><tspan x="322">kept</tspan><tspan x="400">in</tspan><tspan x="478">my</tspan><tspan x="556">life</tspan><tspan x="634">of</tspan><tspan x="712">love</tspan><tspan x="790">.</tspan></text>
<text class="tk" y="52"><tspan x="166">When</tspan><tspan x="244">I</tspan><tspan x="322">went</tspan><tspan x="556">which</tspan><tspan x="634">I</tspan><tspan x="712">said</tspan><tspan x="946">return</tspan></text>
<text class="tk" y="61"><tspan x="166">s</tspan><tspan x="244">,</tspan><tspan x="322">and</tspan><tspan x="400">went</tspan><tspan x="478">on</tspan><tspan x="556">,</tspan><tspan x="790">the</tspan><tspan x="868">world</tspan><tspan x="946">will</tspan></text>
<text class="tk" y="70"><tspan x="166">tell</tspan><tspan x="244">me</tspan><tspan x="322">the</tspan><tspan x="400">same</tspan><tspan x="478">time</tspan><tspan x="556">.</tspan><tspan x="790">Do</tspan><tspan x="868">you</tspan><tspan x="946">like</tspan></text>
<text class="tk" y="79"><tspan x="166">to</tspan><tspan x="244">think</tspan><tspan x="322">as</tspan><tspan x="400">this</tspan><tspan x="634">or</tspan><tspan x="712">live</tspan><tspan x="790">like</tspan><tspan x="868">now</tspan><tspan x="946">?</tspan></text>
<text class="tk" y="88"><tspan x="322">I</tspan><tspan x="400">will</tspan><tspan x="478">have</tspan><tspan x="556">a</tspan><tspan x="634">song</tspan><tspan x="712">in</tspan><tspan x="790">the</tspan><tspan x="868">next</tspan><tspan x="946">Autumn</tspan></text>
<text class="tk" y="97"><tspan x="166">.</tspan><tspan x="400">I</tspan><tspan x="478">will</tspan><tspan x="556">have</tspan><tspan x="634">a</tspan><tspan x="712">story</tspan><tspan x="790">for</tspan><tspan x="868">you</tspan></text>
<rect class="frame" x="126.5" y="-0.5" width="859" height="100"/>
<text class="lbl" x="113" y="66"><tspan font-style="italic">t</tspan> = 0.000</text>
</g>
</svg>
